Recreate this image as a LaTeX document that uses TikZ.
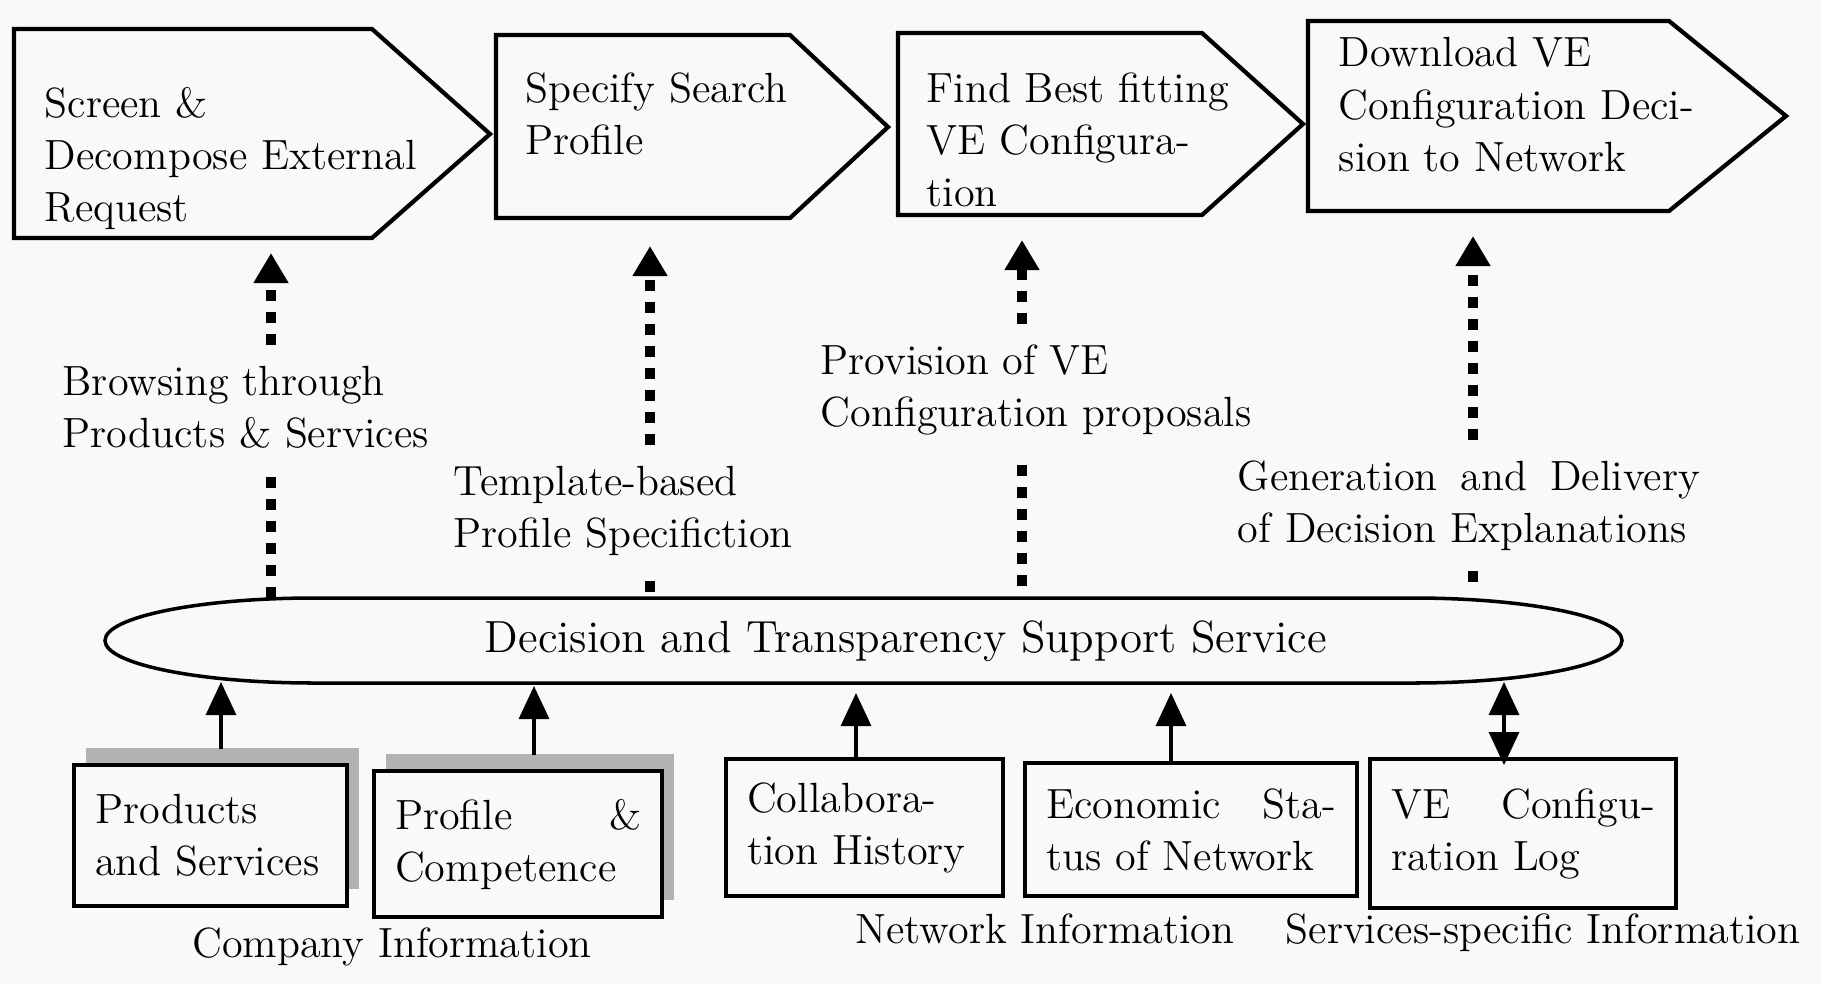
\documentclass[tikz,border=0pt]{standalone}
\usetikzlibrary{arrows.meta,shadows}

\definecolor{bgcol}{RGB}{249,249,249}
\definecolor{shadowcol}{RGB}{178,178,178}

\tikzset{
  txt/.style={inner sep=0pt, align=left, font=\fontsize{12}{14.8}\selectfont},
  stepshape/.style={line width=1.2pt, line join=miter},
  infobox/.style={txt, draw, line width=1.2pt, fill=bgcol, inner xsep=0.21cm,
    anchor=north west},
  boxshadow/.style={drop shadow={shadow xshift=0.12cm, shadow yshift=0.17cm,
    fill=shadowcol, opacity=1}},
  flowline/.style={line width=0.1cm, dash pattern=on 0.11cm off 0.11cm},
  flow/.style={flowline, -{Triangle[length=0.3cm,width=0.33cm]}},
  feed/.style={line width=0.9pt, -{Triangle[length=0.33cm,width=0.3cm]}},
}

\begin{document}
\begin{tikzpicture}[x=0.01cm,y=-0.01cm]
\fill[bgcol] (0,0) rectangle (1821,984);
\useasboundingbox (0,0) rectangle (1821,984);

% process steps
\draw[stepshape] (14,29) -- (372,29) -- (490,134) -- (372,238) -- (14,238) -- cycle;
\draw[stepshape] (496,35) -- (790,35) -- (888,127) -- (790,218) -- (496,218) -- cycle;
\draw[stepshape] (898,33) -- (1202,33) -- (1303,124) -- (1202,215) -- (898,215) -- cycle;
\draw[stepshape] (1308,21) -- (1669,21) -- (1786,116) -- (1669,211) -- (1308,211) -- cycle;

\node[txt, anchor=north west] (s1) at (44,87) {Screen \&\\Decompose External\\Request};
\node[txt, anchor=north west] (s2) at (525,72) {Specify Search\\Profile};
\node[txt, anchor=north west] (s3) at (926,72) {Find Best fitting\\VE Configura-\\tion};
\node[txt, anchor=north west] (s4) at (1338,37) {Download VE\\Configuration Deci-\\sion to Network};

\coordinate (t1) at (271,253);
\coordinate (t2) at (650,246);
\coordinate (t3) at (1022,240);
\coordinate (t4) at (1473,236);

% service
\draw[line width=1pt] (314,598) -- (1413,598)
  .. controls (1528,598) and (1622,617) .. (1622,640.5)
  .. controls (1622,664) and (1528,683) .. (1413,683) -- (314,683)
  .. controls (199,683) and (105,664) .. (105,640.5)
  .. controls (105,617) and (199,598) .. (314,598) -- cycle;
\node[txt, font=\fontsize{12.8}{15}\selectfont] (dss) at (906,641) {Decision and Transparency Support Service};

\coordinate (d1) at (271,598);
\coordinate (d2) at (650,592);
\coordinate (d3) at (1022,586);
\coordinate (d4) at (1473,582);

% interactions
\node[txt, inner ysep=0.2cm, anchor=north west] (l1) at (62,345) {Browsing through\\Products \& Services};
\node[txt, inner ysep=0.2cm, anchor=north west] (l2) at (453,445) {Template-based\\Profile Specifiction};
\node[txt, inner ysep=0.2cm, anchor=north west] (l3) at (820,324) {Provision of VE\\Configuration proposals};
\node[txt, inner ysep=0.2cm, anchor=north west, text width=4.62cm] (l4) at (1237,440)
  {Generation \hfill and \hfill Delivery\\of Decision Explanations};

\draw[flowline] (d1) -- (l1.south -| d1);
\draw[flow] (l1.north -| d1) -- (t1);
\draw[flowline] (d2) -- (l2.south -| d2);
\draw[flow] (l2.north -| d2) -- (t2);
\draw[flowline] (d3) -- (l3.south -| d3);
\draw[flow] (l3.north -| d3) -- (t3);
\draw[flowline] (d4) -- (l4.south -| d4);
\draw[flow] (l4.north -| d4) -- (t4);

% information sources
\node[infobox, boxshadow, text width=2.31cm, minimum height=1.41cm] (ps) at (72,763) {Products\\and Services};
\node[infobox, boxshadow, text width=2.46cm, minimum height=1.46cm] (pc) at (372,769) {Profile \hfill \&\\Competence};
\node[infobox, text width=2.35cm, minimum height=1.37cm] (ch) at (724,757) {Collabora-\\tion History};
\node[infobox, text width=2.90cm, minimum height=1.33cm] (es) at (1023,761) {Economic \hfill Sta-\\tus of Network};
\node[infobox, text width=2.64cm, minimum height=1.49cm] (vl) at (1368,757) {VE \hfill Configu-\\ration Log};

\coordinate (e1) at (221,682);
\coordinate (e2) at (534,686);
\coordinate (e3) at (856,693);
\coordinate (e4) at (1171,693);
\coordinate (e5) at (1504,682);

\draw[feed] ([yshift=0.14cm]ps.north -| e1) -- (e1);
\draw[feed] ([yshift=0.14cm]pc.north -| e2) -- (e2);
\draw[feed] (ch.north -| e3) -- (e3);
\draw[feed] (es.north -| e4) -- (e4);
\draw[feed, {Triangle[length=0.33cm,width=0.3cm]}-{Triangle[length=0.33cm,width=0.3cm]}]
  (e5) -- ([yshift=-0.08cm]vl.north -| e5);

\node[txt] (comp) at (392,947) {Company Information};
\node[txt] (net) at (1045,929) {Network Information};
\node[txt] (serv) at (1543,933) {Services-specific Information};
\end{tikzpicture}
\end{document}
